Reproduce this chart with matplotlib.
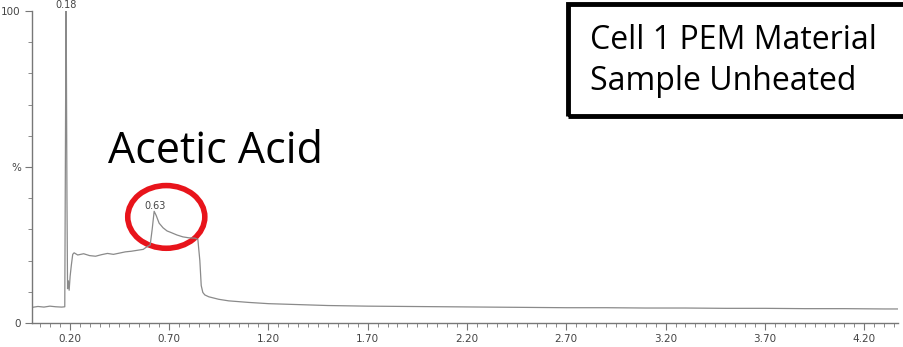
"""Chromatogram trace with the acetic acid peak highlighted."""
import matplotlib.pyplot as plt
from matplotlib.patches import Ellipse, Rectangle
from matplotlib.ticker import FixedLocator, MultipleLocator

# retention time (min) and relative intensity (%)
time = [
    0.01, 0.04, 0.07, 0.10, 0.13, 0.16, 0.175, 0.178, 0.181, 0.183, 0.186,
    0.189, 0.193, 0.197, 0.202, 0.208, 0.215, 0.222, 0.24, 0.27, 0.30, 0.33,
    0.36, 0.39, 0.42, 0.45, 0.48, 0.51, 0.54, 0.57, 0.59, 0.605, 0.615, 0.625,
    0.635, 0.65, 0.67, 0.69, 0.71, 0.74, 0.77, 0.80, 0.83, 0.845, 0.855,
    0.862, 0.87, 0.88, 0.90, 0.95, 1.00, 1.10, 1.20, 1.35, 1.50, 1.70, 1.90,
    2.10, 2.30, 2.50, 2.70, 2.90, 3.10, 3.30, 3.50, 3.70, 3.90, 4.10, 4.30,
    4.37,
]
intensity = [
    5.0, 5.3, 5.1, 5.4, 5.2, 5.1, 5.2, 50.0, 100.0, 86.0, 40.0, 11.0, 13.5,
    10.5, 15.0, 18.5, 22.0, 22.5, 21.8, 22.2, 21.6, 21.4, 21.9, 22.3, 22.0,
    22.4, 22.8, 23.0, 23.3, 23.6, 24.5, 25.0, 30.0, 35.8, 34.5, 32.0, 30.5,
    29.5, 29.0, 28.2, 27.6, 27.3, 27.2, 26.8, 20.0, 12.0, 9.8, 9.0, 8.4,
    7.6, 7.1, 6.6, 6.2, 5.9, 5.6, 5.4, 5.3, 5.2, 5.1, 5.0, 4.9, 4.9, 4.8,
    4.8, 4.7, 4.7, 4.6, 4.6, 4.5, 4.5,
]

# labelled peaks: (retention time, intensity)
peak_labels = [(0.18, 100.0), (0.63, 35.8)]

x_ticks = [0.20, 0.70, 1.20, 1.70, 2.20, 2.70, 3.20, 3.70, 4.20]
y_ticks = [0, 50, 100]
y_tick_labels = ["0", "%", "100"]

compound = "Acetic Acid"
sample_lines = ["Cell 1 PEM Material", "Sample Unheated"]

W, H = 904, 347
fig = plt.figure(figsize=(W / 100, H / 100), dpi=100)
ax = fig.add_axes([32 / W, (H - 323) / H, (898 - 32) / W, (323 - 11) / H])

ax.plot(time, intensity, color="#8a8a8a", linewidth=0.9)
ax.set_xlim(0.01, 4.37)
ax.set_ylim(0, 100)

for t, v in peak_labels:
    ax.annotate(f"{t:.2f}", (t, v), xytext=(0, 0.5), textcoords="offset points",
                ha="center", va="bottom", fontsize=7, color="#444444",
                annotation_clip=False)

for side in ("top", "right"):
    ax.spines[side].set_visible(False)
for side in ("left", "bottom"):
    ax.spines[side].set_color("#777777")
    ax.spines[side].set_linewidth(1.0)

ax.xaxis.set_major_locator(FixedLocator(x_ticks))
ax.xaxis.set_minor_locator(MultipleLocator(0.05))
ax.set_xticklabels([f"{t:.2f}" for t in x_ticks])
ax.yaxis.set_major_locator(FixedLocator(y_ticks))
ax.yaxis.set_minor_locator(MultipleLocator(10))
ax.set_yticklabels(y_tick_labels)
ax.tick_params(which="major", length=5, width=0.8, color="#777777",
               labelsize=7.5, labelcolor="#444444", pad=3)
ax.tick_params(which="minor", length=3, width=0.6, color="#777777")

# highlight ring around the acetic acid peak
ax.add_patch(Ellipse((0.686, 34.0), 0.388, 20.1, fill=False,
                     edgecolor="#e8141b", linewidth=4.0, clip_on=False))

fig.text(108 / W, 1 - 152 / H, compound, fontsize=31, family="Open Sans",
         ha="left", va="center", color="black")

fig.add_artist(Rectangle((568 / W, 1 - 116 / H), 360 / W, 112 / H,
                         transform=fig.transFigure, fill=False,
                         edgecolor="black", linewidth=3.5))
fig.text(590 / W, 1 - 61 / H, "\n".join(sample_lines), fontsize=23,
         family="Open Sans", ha="left", va="center", linespacing=1.3,
         color="black")

fig.savefig("out.png", dpi=100)
